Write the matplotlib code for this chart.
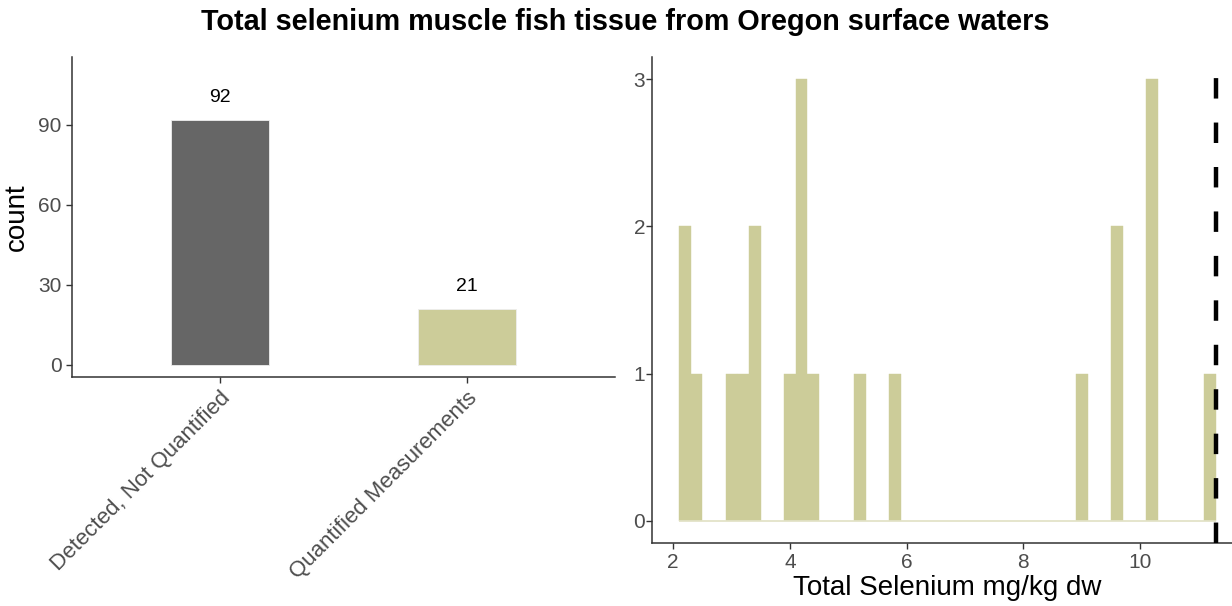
import matplotlib
matplotlib.use("Agg")
import matplotlib.pyplot as plt
import numpy as np

plt.rcParams['font.family'] = ['Liberation Sans', 'DejaVu Sans']

# ---- data ----
categories = ["Detected, Not Quantified", "Quantified Measurements"]
counts = [92, 21]
bar_colors = ["#666666", "#CCCC99"]

selenium_values = [2.2, 2.2, 2.4, 3.0, 3.2, 3.4, 3.4, 4.0, 4.2, 4.2, 4.2,
                   4.4, 5.2, 5.8, 9.0, 9.6, 9.6, 10.2, 10.2, 10.2, 11.2]
bin_start, bin_stop, bin_width = 2.1, 11.3, 0.2
criterion = 11.3
left_yticks = [0, 30, 60, 90]
right_yticks = [0, 1, 2, 3]
right_xticks = [2, 4, 6, 8, 10]

W, H = 1232, 606
fig = plt.figure(figsize=(W / 100, H / 100), dpi=100)

def ax_rect(l, t, r, b):
    return [l / W, 1 - b / H, (r - l) / W, (b - t) / H]

tick_col = "#4D4D4D"
tick_fs = 15

# ---- left panel ----
ax1 = fig.add_axes(ax_rect(72, 57, 615, 377))
x = np.arange(1, len(categories) + 1)
ax1.bar(x, counts, width=0.4, color=bar_colors, edgecolor="#EEEEEE", linewidth=0.6)
for xi, c in zip(x, counts):
    ax1.text(xi, c + 8.3, str(c), ha="center", va="center", fontsize=14, color="black")
ax1.set_xlim(0.4, 2.6)
ax1.set_ylim(-4.6, 115.5)
ax1.set_yticks(left_yticks)
ax1.set_xticks(x)
ax1.set_xticklabels(categories, rotation=45, ha="right", va="top",
                    rotation_mode="anchor", fontsize=16, color=tick_col)
ax1.set_ylabel("count", fontsize=20, labelpad=6)
for s in ["top", "right"]:
    ax1.spines[s].set_visible(False)
for s in ["left", "bottom"]:
    ax1.spines[s].set_color("#333333")
    ax1.spines[s].set_linewidth(1.1)
ax1.tick_params(axis="y", colors="#333333", labelcolor=tick_col, labelsize=tick_fs,
                length=4, width=1)
ax1.tick_params(axis="x", colors="#333333", labelcolor=tick_col, length=4, width=1)

# ---- right panel ----
ax2 = fig.add_axes(ax_rect(652, 57, 1243, 543))
bins = np.arange(bin_start, bin_stop + bin_width / 2, bin_width)
ax2.hist(selenium_values, bins=bins, color="#CCCC99", edgecolor="#CCCC99", linewidth=0.3)
ax2.hlines(0, bin_start, bin_stop, color="#E3E3C8", linewidth=1.2, zorder=1)
ax2.axvline(criterion, color="black", linewidth=3.2, linestyle=(0, (4.6, 5.4)), zorder=3)
ax2.set_xlim(1.64, 11.76)
ax2.set_ylim(-0.15, 3.15)
ax2.set_xticks(right_xticks)
ax2.set_yticks(right_yticks)
ax2.set_xlabel("Total Selenium mg/kg dw", fontsize=20, labelpad=2)
for s in ["top", "right"]:
    ax2.spines[s].set_visible(False)
for s in ["left", "bottom"]:
    ax2.spines[s].set_color("#333333")
    ax2.spines[s].set_linewidth(1.1)
ax2.tick_params(axis="both", colors="#333333", labelcolor=tick_col, labelsize=tick_fs,
                length=4, width=1)
ax2.tick_params(axis="y", pad=1)

fig.text(625 / W, 1 - 22 / H, "Total selenium muscle fish tissue from Oregon surface waters",
         ha="center", va="center", fontsize=20.7, fontweight="bold")

fig.savefig("out.png", dpi=100)
